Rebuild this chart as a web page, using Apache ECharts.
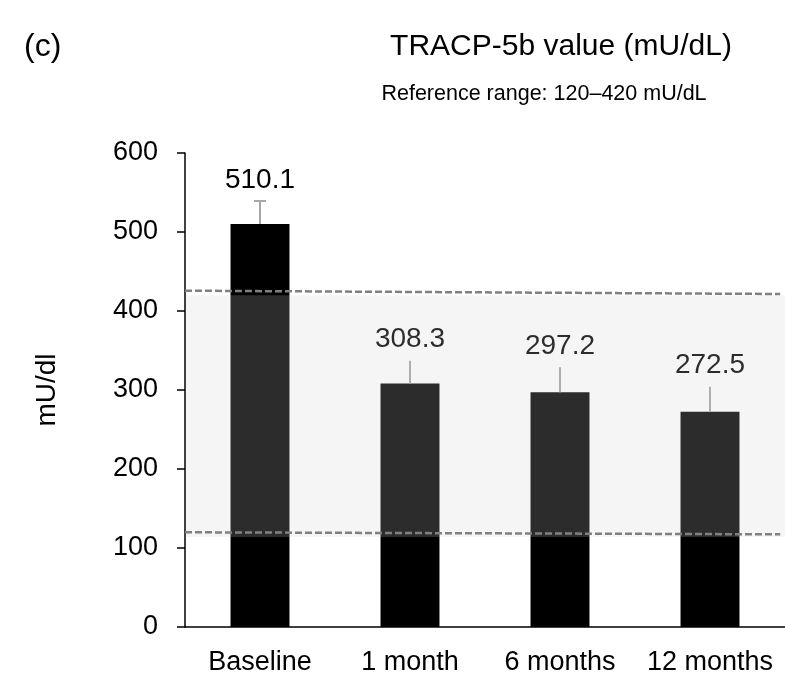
<!DOCTYPE html>
<html><head><meta charset="utf-8">
<script src="https://cdn.jsdelivr.net/npm/echarts@6/dist/echarts.min.js"></script>
<style>html,body{margin:0;padding:0;background:#fff}#c{width:785px;height:677px}</style>
</head><body><div id="c"></div>
<script>
// ---- data ----
const categories = ['Baseline', '1 month', '6 months', '12 months'];
const meanValues = [510.1, 308.3, 297.2, 272.5];
const errorValues = [29.1, 28.7, 31.5, 31.7];
const yMin = 0, yMax = 600, yInterval = 100;
const shadeRange = [114, 420];
const upperRefLine = [[0, 425.7], [0.992, 421.5]];
const lowerRefLine = [[0, 119.9], [0.992, 117.3]];
const titleText = 'TRACP-5b value (mU/dL)';
const subtitleText = 'Reference range: 120\u2013420 mU/dL';
const panelLabel = '(c)';
const yName = 'mU/dl';

// ---- chart ----
const FONT = 'Liberation Sans, Arial, sans-serif';
const chart = echarts.init(document.getElementById('c'), null, {renderer: 'canvas'});
const errColor = '#a6a6a6';

chart.setOption({
  animation: false,
  backgroundColor: '#fff',
  title: [
    {text: titleText, left: 556, top: 42, textAlign: 'center', textVerticalAlign: 'middle',
     textStyle: {fontFamily: FONT, fontSize: 30, fontWeight: 'normal', color: '#000'}},
    {text: subtitleText, left: 539, top: 89, textAlign: 'center', textVerticalAlign: 'middle',
     textStyle: {fontFamily: FONT, fontSize: 21.5, fontWeight: 'normal', color: '#000'}},
    {text: panelLabel, left: 19, top: 42, textVerticalAlign: 'middle',
     textStyle: {fontFamily: FONT, fontSize: 32, fontWeight: 'normal', color: '#000'}}
  ],
  grid: {left: 185, right: 0, top: 153, bottom: 50, containLabel: false},
  xAxis: [
    {type: 'category', data: categories,
     axisLine: {lineStyle: {color: '#000', width: 1.5}},
     axisTick: {show: false},
     axisLabel: {fontFamily: FONT, fontSize: 27, color: '#000', margin: 22, interval: 0},
     splitLine: {show: false}},
    {type: 'value', min: 0, max: 1, show: false}
  ],
  yAxis: {
    type: 'value', min: yMin, max: yMax, interval: yInterval,
    name: yName, nameLocation: 'middle', nameRotate: 90, nameGap: 124,
    nameTextStyle: {fontFamily: FONT, fontSize: 28, color: '#000'},
    axisLine: {show: true, lineStyle: {color: '#000', width: 1.5}},
    axisTick: {show: true, length: 8, lineStyle: {color: '#000', width: 1.5}},
    axisLabel: {fontFamily: FONT, fontSize: 27, color: '#000', margin: 27},
    splitLine: {show: false}
  },
  series: [
    {type: 'bar', data: meanValues, barWidth: '39.3%', z: 2,
     itemStyle: {color: '#000'}},
    {type: 'custom', z: 3,
     data: meanValues.map((v, i) => [i, v, v + errorValues[i]]),
     encode: {x: 0, y: [1, 2]},
     renderItem: function (params, api) {
       const i = api.value(0);
       const base = api.coord([i, api.value(1)]);
       const top = api.coord([i, api.value(2)]);
       const children = [
         {type: 'line', shape: {x1: base[0], y1: base[1], x2: top[0], y2: top[1]},
          style: {stroke: errColor, lineWidth: 2}}
       ];
       if (i === 0) {
         children.push({type: 'line', shape: {x1: top[0] - 6, y1: top[1], x2: top[0] + 6, y2: top[1]},
           style: {stroke: errColor, lineWidth: 2}});
       }
       children.push({type: 'text', style: {
         text: api.value(1).toFixed(1), x: top[0], y: top[1] - 21,
         align: 'center', verticalAlign: 'middle',
         font: '28px ' + FONT, fill: '#000'}});
       return {type: 'group', children: children};
     }},
    {type: 'custom', z: 4, silent: true,
     data: [[0, shadeRange[0], shadeRange[1]]],
     encode: {x: 0, y: [1, 2]},
     renderItem: function (params, api) {
       const cs = params.coordSys;
       const y0 = api.coord([0, api.value(1)])[1];
       const y1 = api.coord([0, api.value(2)])[1];
       return {type: 'rect', shape: {x: cs.x + 1, y: y1, width: cs.width - 1, height: y0 - y1},
         style: {fill: 'rgba(207,207,207,0.21)'}};
     }},
    {type: 'line', xAxisIndex: 1, z: 5, data: upperRefLine, symbol: 'none', silent: true,
     lineStyle: {color: '#808080', width: 2.5, type: [7, 3]}},
    {type: 'line', xAxisIndex: 1, z: 5, data: lowerRefLine, symbol: 'none', silent: true,
     lineStyle: {color: '#808080', width: 2.5, type: [7, 3]}}
  ]
});
</script>
</body></html>
